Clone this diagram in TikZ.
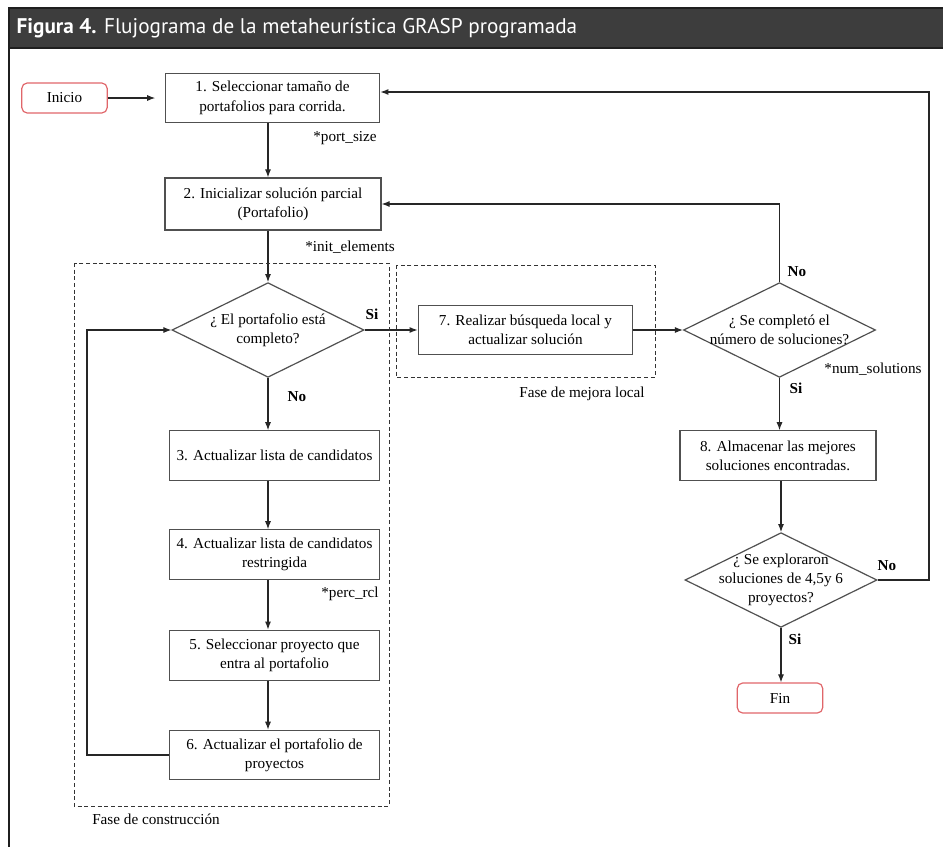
\documentclass[tikz,border=0pt]{standalone}
\usepackage{fontspec}
\setmainfont{Liberation Serif}
\newfontfamily\titlefont{PT Sans}
\usetikzlibrary{shapes.geometric,arrows.meta}
\definecolor{hdrgray}{HTML}{3D3D3D}
\definecolor{hdrline}{HTML}{1F1F1F}
\definecolor{boxgray}{HTML}{505050}
\definecolor{startred}{HTML}{E0666A}
\begin{document}
\begin{tikzpicture}[x=0.75pt,y=-0.75pt,
  font=\fontsize{11.4}{14.5}\selectfont,
  proc/.style={draw=boxgray, line width=0.9pt, minimum width=158pt, minimum height=37pt, align=center, inner sep=2pt},
  decision/.style={draw=boxgray, line width=0.9pt, diamond, minimum width=144pt, minimum height=71pt, inner sep=0pt},
  term/.style={draw=startred, line width=0.9pt, rounded corners=4pt, minimum width=64pt, minimum height=22.5pt},
  arr/.style={draw=black!85, line width=0.8pt, -{Latex[length=6pt,width=4.5pt]}},
  phase/.style={draw=black!80, line width=0.7pt, dash pattern=on 3pt off 2pt},
  note/.style={inner sep=0pt},
  yn/.style={font=\fontsize{11.4}{14.5}\selectfont\bfseries, inner sep=0pt}]
\useasboundingbox (0,0) rectangle (943,847);
\fill[hdrgray] (8,8) rectangle (943,48);
\draw[hdrline, line width=1.5pt] (8,8) -- (943,8) (8,48) -- (943,48);
\draw[hdrline, line width=2pt] (9,8) -- (9,847);
\node[anchor=west, text=white, font=\titlefont\fontsize{15.9}{18}\selectfont] (title) at (12,28) {\textbf{Figura 4.} Flujograma de la metaheurística GRASP programada};

\node[term] (inicio) at (64.5,98) {Inicio};
\node[proc, minimum width=161pt] (b1) at (272.5,98) {1. Seleccionar tamaño de\\portafolios para corrida.};
\node[proc, minimum width=162pt, minimum height=39pt] (b2) at (273,204) {2. Inicializar solución parcial\\(Portafolio)};
\node[decision, label={[align=center]center:¿ El portafolio está\\completo?}] (d1) at (268,330) {};
\node[proc] (b3) at (274.5,455.5) {3. Actualizar lista de candidatos};
\node[proc] (b4) at (274.5,554.5) {4. Actualizar lista de candidatos\\restringida};
\node[proc, minimum height=38pt] (b5) at (274.5,655.5) {5. Seleccionar proyecto que\\entra al portafolio};
\node[proc] (b6) at (274.5,755) {6. Actualizar el portafolio de\\proyectos};
\node[proc, minimum width=161pt] (b7) at (525.5,330) {7. Realizar búsqueda local y\\actualizar solución};
\node[decision, label={[align=center]center:¿ Se completó el\\número de soluciones?}] (d2) at (779.5,330) {};
\node[proc, minimum width=147pt] (b8) at (778,455.5) {8. Almacenar las mejores\\soluciones encontradas.};
\node[decision, label={[align=center]center:¿ Se exploraron\\soluciones de 4,5y 6\\proyectos?}] (d3) at (781,580) {};
\node[term] (fin) at (780,698) {Fin};
\coordinate (lp) at (87,755);
\coordinate (rt) at (929,580);

\draw[arr, shorten >=7pt] (inicio) -- (b1);
\draw[arr] (b1.south -| d1.north) -- (b2.north -| d1.north);
\draw[arr] (b2.south -| d1.north) -- (d1.north);
\draw[arr] (d1.south) -- (b3.north -| d1.south);
\draw[arr] (b3.south -| d1.south) -- (b4.north -| d1.south);
\draw[arr] (b4.south -| d1.south) -- (b5.north -| d1.south);
\draw[arr] (b5.south -| d1.south) -- (b6.north -| d1.south);
\draw[arr] (b6.west) -- (b6.west -| lp) |- (d1.west);
\draw[arr] (d1.east) -- (b7.west);
\draw[arr] (b7.east) -- (d2.west);
\draw[arr] (d2.north) |- (b2.east);
\draw[arr] (d2.south) -- (b8.north -| d2.south);
\draw[arr] (b8.south -| d3.north) -- (d3.north);
\draw[arr] (d3.south) -- (fin.north -| d3.south);
\draw[arr] (d3.east) -- (rt) |- ([yshift=4.5pt]b1.east);

\node[note] (ps) at (345,138) {*port\_size};
\node[note] (ie) at (350,247) {*init\_elements};
\node[note] (pr) at (350,594) {*perc\_rcl};
\node[note] (ns) at (873,369) {*num\_solutions};
\node[yn] (si1) at (372,314) {Si};
\node[yn] (no1) at (297,397) {No};
\node[yn] (no2) at (797,272) {No};
\node[yn] (si2) at (796,388) {Si};
\node[yn] (no3) at (887,566) {No};
\node[yn] (si3) at (795,639) {Si};
\draw[phase] (74,263) rectangle (389,806);
\draw[phase] (396,265) rectangle (655,377);
\node[note, anchor=west] (fc) at (92,819) {Fase de construcción};
\node[note] (fm) at (582,394) {Fase de mejora local};
\end{tikzpicture}
\end{document}
